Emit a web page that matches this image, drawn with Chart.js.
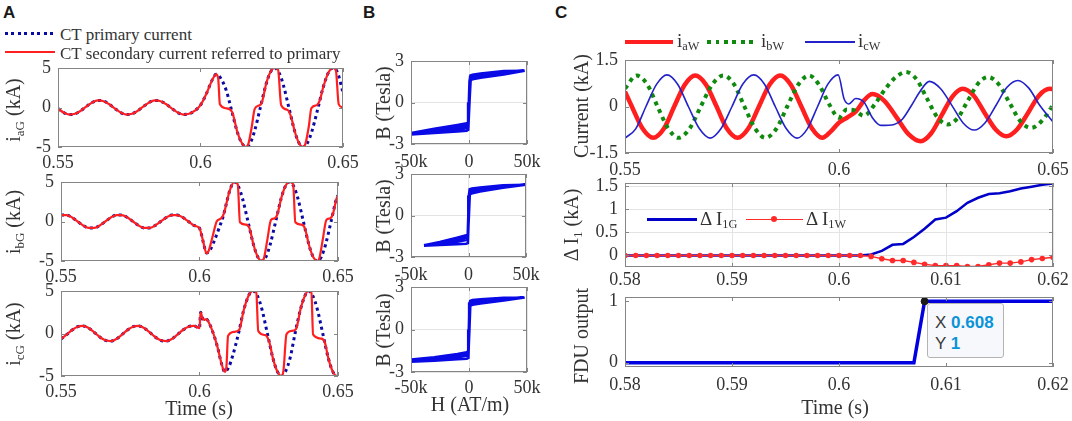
<!DOCTYPE html>
<html>
<head>
<meta charset="utf-8">
<script src="https://cdn.jsdelivr.net/npm/chart.js@4.4.1/dist/chart.umd.min.js"></script>
<style>
  html, body { margin: 0; padding: 0; background: #fff; }
  body { position: relative; width: 1072px; height: 421px; overflow: hidden;
         font-family: 'Liberation Serif', 'Times New Roman', serif; color: #333; }
  canvas { position: absolute; }
  .t { position: absolute; white-space: nowrap; line-height: 1; font-size: 20px; z-index: 2; }
  .mid { transform: translateY(-50%); }
  .ctr { transform: translate(-50%, -50%); }
  .rot { transform: translate(-50%, -50%) rotate(-90deg); }
  sub { font-size: 65%; vertical-align: -0.3em; line-height: 0; }
  .panel { font-family: 'Liberation Sans', Arial, sans-serif; font-weight: bold; font-size: 17px; color: #1a1a1a; }
  .ln { position: absolute; z-index: 2; }
  .tip { position: absolute; left: 927px; top: 303px; width: 77px; height: 55px; box-sizing: border-box;
         background: #f7f8fc; border: 1px solid #b4b4b4; border-radius: 3px; z-index: 2; }
  .tipt { font-family: 'Liberation Sans', Arial, sans-serif; font-size: 17px; color: #3a3a3a; }
  .tipt b { color: #0b93d8; }
</style>
</head>
<body>

<!-- panel letters -->
<div class="t panel" style="left:3px; top:4px;">A</div>
<div class="t panel" style="left:363px; top:4px;">B</div>
<div class="t panel" style="left:555px; top:4px;">C</div>

<!-- legend A -->
<div class="ln" style="left:5px; top:32px; width:50px; height:3px; background:repeating-linear-gradient(90deg,#0a0aa5 0 3px,transparent 3px 6.5px);"></div>
<div class="t mid" style="left:60px; top:34px; font-size:17px;">CT primary current</div>
<div class="ln" style="left:5px; top:51px; width:50px; height:2px; background:#ff1f1f;"></div>
<div class="t mid" style="left:60px; top:53px; font-size:17px;">CT secondary current referred to primary</div>

<!-- legend C top -->
<div class="ln" style="left:625px; top:40px; width:48px; height:4px; background:#ff1f1f;"></div>
<div class="t mid" style="left:677px; top:40px; font-size:19px;">i<sub>aW</sub></div>
<div class="ln" style="left:707px; top:40px; width:50px; height:4px; background:repeating-linear-gradient(90deg,#0f8a0f 0 4px,transparent 4px 8.5px);"></div>
<div class="t mid" style="left:761px; top:40px; font-size:19px;">i<sub>bW</sub></div>
<div class="ln" style="left:805px; top:41px; width:50px; height:1.6px; background:#2222c8;"></div>
<div class="t mid" style="left:858px; top:40px; font-size:19px;">i<sub>cW</sub></div>

<!-- legend C middle -->
<div class="ln" style="left:647px; top:218px; width:50px; height:2.5px; background:#0000c8;"></div>
<div class="t mid" style="left:700px; top:218px; font-size:19px;">&Delta; I<sub>1G</sub></div>
<div class="ln" style="left:746px; top:218.5px; width:57px; height:1.5px; background:#ff2a2a;"></div>
<div class="ln" style="left:771px; top:216px; width:6px; height:6px; border-radius:3px; background:#ff2a2a;"></div>
<div class="t mid" style="left:806px; top:218px; font-size:19px;">&Delta; I<sub>1W</sub></div>

<!-- axis titles -->
<div class="t rot" style="left:13px; top:110px;">i<sub>aG</sub> (kA)</div>
<div class="t rot" style="left:13px; top:222px;">i<sub>bG</sub> (kA)</div>
<div class="t rot" style="left:13px; top:334px;">i<sub>cG</sub> (kA)</div>
<div class="t ctr" style="left:199px; top:408px;">Time (s)</div>
<div class="t rot" style="left:383px; top:103px;">B (Tesla)</div>
<div class="t rot" style="left:383px; top:216px;">B (Tesla)</div>
<div class="t rot" style="left:383px; top:330px;">B (Tesla)</div>
<div class="t ctr" style="left:470px; top:404px;">H (AT/m)</div>
<div class="t rot" style="left:581px; top:106px;">Current (kA)</div>
<div class="t rot" style="left:571px; top:225px;">&Delta; I<sub>1</sub> (kA)</div>
<div class="t rot" style="left:581px; top:336px;">FDU output</div>
<div class="t ctr" style="left:835px; top:407px;">Time (s)</div>

<!-- data tip -->
<div class="tip"></div>
<div class="t mid tipt" style="left:935px; top:322px;">X <b id="tipx"></b></div>
<div class="t mid tipt" style="left:935px; top:343px;">Y <b id="tipy"></b></div>

<script>
// ---------- Panel A: CT currents of the generator side (kA) ----------
const tPre = [0.550, 0.552, 0.554, 0.556, 0.558, 0.560, 0.562, 0.564, 0.566, 0.568,
              0.570, 0.572, 0.574, 0.576, 0.578, 0.580, 0.582, 0.584, 0.586, 0.588,
              0.590, 0.592, 0.594, 0.596, 0.598];
const iaPre = [-0.14, -0.64, -0.89, -0.80, -0.41, 0.14, 0.64, 0.89, 0.80, 0.41,
               -0.14, -0.64, -0.89, -0.80, -0.41, 0.14, 0.64, 0.89, 0.80, 0.41,
               -0.14, -0.64, -0.89, -0.80, -0.41];
const ibPre = [0.81, 0.81, 0.50, 0, -0.50, -0.81, -0.81, -0.50, 0, 0.50,
               0.81, 0.81, 0.50, 0, -0.50, -0.81, -0.81, -0.50, 0, 0.50,
               0.81, 0.81, 0.50, 0, -0.50];
const icPre = [-0.64, -0.14, 0.41, 0.80, 0.89, 0.64, 0.14, -0.41, -0.80, -0.89,
               -0.64, -0.14, 0.41, 0.80, 0.89, 0.64, 0.14, -0.41, -0.80, -0.89,
               -0.64, -0.14, 0.41, 0.80, 0.89];

// after the fault: primary (dotted) and secondary referred to primary (solid)
const taPrim = [0.600, 0.602, 0.604, 0.6055, 0.607, 0.609, 0.611, 0.613, 0.6145, 0.616,
                0.6175, 0.619, 0.621, 0.623, 0.6245, 0.626, 0.6275, 0.629, 0.631, 0.633,
                0.6345, 0.636, 0.6375, 0.639, 0.641, 0.643, 0.645, 0.6465, 0.648, 0.650];
const iaPrim = [0.3, 1.7, 3.4, 4.2, 3.75, 2.2, -0.5, -3.2, -4.5, -5.0,
                -4.45, -2.94, 0, 2.94, 4.45, 5.0, 4.45, 2.94, 0, -2.94,
                -4.45, -5.0, -4.5, -3.1, -0.4, 2.5, 4.5, 5.0, 4.5, 1.9];
const taSec = [0.600, 0.602, 0.604, 0.6055, 0.6062, 0.6068, 0.609, 0.611, 0.613, 0.6145,
               0.616, 0.6168, 0.618, 0.619, 0.6205, 0.6215, 0.623, 0.6245, 0.626, 0.6272,
               0.6283, 0.6305, 0.6318, 0.633, 0.6345, 0.636, 0.6368, 0.638, 0.6389, 0.6408,
               0.642, 0.643, 0.645, 0.6465, 0.6475, 0.6485, 0.650];
const iaSec = [0.3, 1.7, 3.4, 4.2, 3.7, 0.4, -0.1, -0.5, -3.2, -4.5,
               -5.0, -4.6, -2.4, -0.2, 0.25, 0.6, 2.94, 4.45, 5.0, 4.8,
               0.3, -0.3, -1.2, -2.94, -4.45, -5.0, -4.6, -2.4, -0.1, 0.3,
               1.05, 2.5, 4.5, 5.0, 4.7, 0.4, 0.0];

const tbPrim = [0.600, 0.6006, 0.6015, 0.6025, 0.604, 0.6055, 0.607, 0.6085, 0.610, 0.611,
                0.6125, 0.614, 0.6155, 0.6175, 0.6195, 0.621, 0.6225, 0.624, 0.6255, 0.6275,
                0.6295, 0.631, 0.6325, 0.634, 0.6355, 0.6375, 0.6395, 0.641, 0.6425, 0.644,
                0.6455, 0.6475, 0.6495, 0.650];
const ibPrim = [-0.85, -1.5, -2.8, -4.0, -3.5, -2.3, -0.9, 0.6, 2.7, 4.0,
                5.0, 4.46, 2.94, 0, -2.94, -4.46, -5.0, -4.46, -2.94, 0,
                2.94, 4.46, 5.0, 4.46, 2.94, 0, -2.94, -4.46, -5.0, -4.46,
                -2.94, 0, 2.94, 3.3];
const tbSec = [0.600, 0.6006, 0.6015, 0.6025, 0.6032, 0.6048, 0.6062, 0.6078, 0.6088, 0.610,
               0.611, 0.6125, 0.6138, 0.6146, 0.6168, 0.618, 0.6195, 0.621, 0.6225, 0.6233,
               0.6245, 0.6258, 0.6272, 0.6282, 0.6295, 0.631, 0.6325, 0.6338, 0.6346, 0.6368,
               0.638, 0.6395, 0.641, 0.6425, 0.6433, 0.6445, 0.6458, 0.6472, 0.6482, 0.6495,
               0.650];
const ibSec = [-0.85, -1.5, -2.8, -4.0, -3.8, -1.8, 0.0, 0.4, 1.0, 2.7,
               4.0, 5.0, 4.7, -0.1, -0.4, -0.8, -2.94, -4.46, -5.0, -4.6,
               -2.3, 0.2, 0.4, 1.0, 2.94, 4.46, 5.0, 4.7, -0.1, -0.4,
               -0.8, -2.94, -4.46, -5.0, -4.6, -2.3, 0.2, 0.4, 1.0, 2.94,
               3.3];

const tcPrim = [0.600, 0.6004, 0.601, 0.6016, 0.6025, 0.6035, 0.605, 0.6065, 0.608, 0.6091,
                0.6105, 0.612, 0.614, 0.616, 0.6178, 0.6193, 0.6208, 0.6225, 0.6245, 0.6265,
                0.628, 0.6296, 0.631, 0.6327, 0.6345, 0.6365, 0.638, 0.6393, 0.6408, 0.6425,
                0.6445, 0.6465, 0.648, 0.6495, 0.650];
const icPrim = [0.64, 2.5, 1.9, 1.6, 1.7, 1.2, 0.0, -1.6, -3.6, -4.5,
                -4.0, -2.6, -0.1, 2.8, 4.5, 5.0, 4.5, 2.9, 0, -2.9,
                -4.4, -5.0, -4.5, -2.9, 0, 2.9, 4.4, 5.0, 4.5, 2.9,
                0, -2.9, -4.4, -5.0, -5.0];
const tcSec = [0.600, 0.6004, 0.601, 0.6016, 0.6025, 0.6035, 0.605, 0.6065, 0.608, 0.6091,
               0.6097, 0.6103, 0.6125, 0.6143, 0.616, 0.6178, 0.6193, 0.6205, 0.6212, 0.6238,
               0.6252, 0.6265, 0.628, 0.6296, 0.6303, 0.6314, 0.6332, 0.6348, 0.6365, 0.638,
               0.6393, 0.6404, 0.641, 0.644, 0.6452, 0.6465, 0.648, 0.6495, 0.650];
const icSec = [0.64, 2.5, 1.9, 1.6, 1.7, 1.2, 0.0, -1.6, -3.6, -4.5,
               -4.0, -0.3, 0.2, 0.4, 2.8, 4.5, 5.0, 4.8, 0.3, -0.2,
               -1.0, -2.9, -4.4, -5.0, -4.4, -0.1, 0.3, 0.5, 2.9, 4.4,
               5.0, 4.8, -0.1, -0.6, -1.0, -2.9, -4.4, -5.0, -5.0];

// ---------- Panel B: B-H loops (AT/m, Tesla) ----------
const h1 = [-50000, -30000, -10000, -2000, -600, 300, 1000, 3000, 10000, 30000, 48000,
            30000, 10000, 3000, 1200, 400, -200, -800, -2000, -10000, -30000, -50000,
            -30000, -10000, -2000, -500, 500, 1500, 4000, 15000, 30000, 47000,
            30000, 10000, 3000, 900, 200, -500, -2000, -10000, -30000, -48000];
const b1 = [-2.32, -2.2, -2.1, -2.05, -1.98, 0, 1.6, 1.68, 1.78, 2.02, 2.3,
            2.28, 2.1, 2.0, 1.95, 1.55, 0, -1.42, -1.5, -1.62, -1.9, -2.2,
            -2.12, -1.95, -1.85, -1.78, 0.1, 1.72, 1.8, 1.92, 2.12, 2.32,
            2.2, 2.02, 1.9, 1.85, 0.3, -1.6, -1.68, -1.8, -2.05, -2.27];
const h2 = [-38700, -25000, -10000, -2000, -500, 300, 800, 2500, 10000, 30000, 50000,
            30000, 10000, 3000, 1000, 300, -200, -700, -2000, -10000, -25000, -38700,
            -25000, -10000, -2000, -500, 400, 1200, 4000, 15000, 35000, 49000,
            30000, 10000, 3000, 800, 100, -600, -2000, -10000, -25000, -38000];
const b2 = [-2.18, -2.14, -2.08, -2.04, -2.0, 0, 1.5, 1.58, 1.73, 2.0, 2.22,
            2.18, 2.02, 1.95, 1.9, 1.45, 0, -1.35, -1.42, -1.6, -1.92, -2.14,
            -2.06, -1.9, -1.78, -1.72, 0, 1.62, 1.7, 1.86, 2.08, 2.24,
            2.1, 1.9, 1.78, 1.7, 0.3, -1.55, -1.6, -1.76, -2.0, -2.15];
const h3 = [-50000, -30000, -10000, -2000, -500, 300, 900, 3000, 10000, 30000, 48000,
            30000, 10000, 3000, 1000, 300, -200, -700, -2000, -10000, -30000, -50000,
            -30000, -10000, -2000, -500, 400, 1200, 4000, 15000, 30000, 47000,
            30000, 10000, 3000, 800, 100, -600, -2000, -10000, -30000, -48000];
const b3 = [-2.28, -2.2, -2.1, -2.06, -2.0, 0, 1.68, 1.74, 1.84, 2.04, 2.25,
            2.24, 2.14, 2.09, 2.02, 1.6, 0, -1.52, -1.6, -1.72, -1.96, -2.12,
            -2.1, -1.95, -1.85, -1.8, 0, 1.82, 1.9, 2.0, 2.12, 2.28,
            2.18, 2.05, 1.98, 1.93, 0.3, -1.65, -1.72, -1.85, -2.05, -2.2];

// ---------- Panel C: wind side currents, delta I1, FDU ----------
const tIaW = [0.5500, 0.5517, 0.5541, 0.5566, 0.5591, 0.5615, 0.5640, 0.5664, 0.5689, 0.5714,
              0.5738, 0.5763, 0.5788, 0.5813, 0.5838, 0.5863, 0.5887, 0.5912, 0.5937, 0.5961,
              0.5981, 0.6000, 0.6020, 0.6040, 0.6060, 0.6078, 0.6106, 0.6135, 0.6163, 0.6191,
              0.6215, 0.6240, 0.6265, 0.6289, 0.6315, 0.6340, 0.6366, 0.6391, 0.6416, 0.6442,
              0.6467, 0.6492, 0.6500];
const iaW = [0.48, -0.03, -0.71, -1.01, -0.71, 0.0, 0.71, 1.0, 0.71, 0.0,
             -0.71, -1.01, -0.71, 0.0, 0.71, 1.0, 0.71, 0.0, -0.71, -1.01,
             -0.8, -0.52, -0.35, -0.15, 0.22, 0.40, 0.18, -0.36, -0.90, -1.12,
             -0.87, -0.28, 0.32, 0.57, 0.35, -0.20, -0.74, -0.96, -0.74, -0.2,
             0.35, 0.57, 0.56];
const tIbW = [0.5500, 0.5527, 0.5552, 0.5576, 0.5601, 0.5625, 0.5651, 0.5677, 0.5704, 0.5730,
              0.5755, 0.5779, 0.5804, 0.5828, 0.5854, 0.5879, 0.5905, 0.5930, 0.5953, 0.5978,
              0.6000, 0.6018, 0.6035, 0.6058, 0.6085, 0.6110, 0.6133, 0.6156, 0.6181, 0.6205,
              0.6230, 0.6254, 0.6278, 0.6301, 0.6325, 0.6348, 0.6373, 0.6398, 0.6424, 0.6449,
              0.6475, 0.6500];
const ibW = [0.58, 1.0, 0.71, 0.0, -0.71, -1.01, -0.71, 0.0, 0.71, 1.0,
             0.71, 0.0, -0.71, -1.01, -0.71, 0.0, 0.71, 1.0, 0.71, 0.05,
             -0.36, -0.1, -0.12, -0.3, 0.1, 0.6, 0.95, 1.11, 0.88, 0.27,
             -0.35, -0.58, -0.36, 0.19, 0.74, 0.95, 0.72, 0.13, -0.48, -0.69,
             -0.45, 0.05];
const tIcW = [0.5500, 0.5525, 0.5549, 0.5574, 0.5598, 0.5623, 0.5648, 0.5674, 0.5699, 0.5724,
              0.5750, 0.5775, 0.5801, 0.5826, 0.5851, 0.5877, 0.5902, 0.5926, 0.5950, 0.5974,
              0.5998, 0.6012, 0.6023, 0.6039, 0.6059, 0.6078, 0.6098, 0.6129, 0.6148, 0.6170,
              0.6190, 0.6211, 0.6237, 0.6264, 0.6290, 0.6316, 0.6341, 0.6367, 0.6392, 0.6418,
              0.6443, 0.6469, 0.6500];
const icW = [-1.02, -0.72, 0.0, 0.72, 1.02, 0.72, 0.0, -0.72, -1.02, -0.72,
             0.0, 0.72, 1.02, 0.72, 0.0, -0.72, -1.02, -0.72, 0.0, 0.72,
             1.02, 0.24, 0.08, 0.26, 0.13, -0.36, -0.61, -0.58, -0.41, 0.05,
             0.5, 0.81, 0.58, 0.03, -0.53, -0.76, -0.53, 0.04, 0.61, 0.84,
             0.6, 0.04, -0.5];

const tD = [0.580, 0.581, 0.582, 0.583, 0.584, 0.585, 0.586, 0.587, 0.588, 0.589,
            0.590, 0.591, 0.592, 0.593, 0.594, 0.595, 0.596, 0.597, 0.598, 0.599,
            0.600, 0.601, 0.602, 0.603, 0.604, 0.605, 0.606, 0.607, 0.608, 0.609,
            0.610, 0.611, 0.612, 0.613, 0.614, 0.615, 0.616, 0.617, 0.618, 0.619,
            0.620];
const dI1G = [0, 0, 0, 0, 0, 0, 0, 0, 0, 0,
              0, 0, 0, 0, 0, 0, 0, 0, 0, 0,
              0, 0, 0, 0.02, 0.1, 0.23, 0.25, 0.40, 0.58, 0.78,
              0.82, 0.96, 1.14, 1.25, 1.33, 1.35, 1.39, 1.45, 1.49, 1.53,
              1.56];
const dI1W = [0, 0, 0, 0, 0, 0, 0, 0, 0, 0,
              0, 0, 0, 0, 0, 0, 0, 0, 0, 0,
              0, 0, 0, -0.02, -0.07, -0.11, -0.11, -0.15, -0.19, -0.22,
              -0.22, -0.22, -0.24, -0.24, -0.2, -0.165, -0.165, -0.14, -0.09, -0.065,
              -0.04];

const tFdu = [0.580, 0.607, 0.608, 0.620];
const fdu = [0, 0, 1, 1];
const tipX = 0.608, tipY = 1;

// tick values
const tickT = [0.55, 0.6, 0.65];
const tickI = [-5, 0, 5];
const tickH = [-50000, 0, 50000];
const tickB = [-3, 0, 3];
const tickCur = [-1.5, 0, 1.5];
const tickTz = [0.58, 0.59, 0.6, 0.61, 0.62];
const tickD = [0, 0.5, 1, 1.5];
const tickF = [0, 1];

const RED = '#ff1f1f', NAVY = '#0a0aa5';
const LABEL_FONT = "18px 'Liberation Serif', 'Times New Roman', serif";

const xy = (t, v) => t.map((x, i) => ({ x, y: v[i] }));

// MATLAB-like box, inward ticks on all four sides, serif tick labels
const frame = {
  id: 'frame',
  afterDatasetsDraw(chart, args, opts) {
    const { ctx, chartArea: a, scales: { x, y } } = chart;
    ctx.save();
    ctx.strokeStyle = '#858585';
    ctx.lineWidth = 1;
    ctx.beginPath();
    x.ticks.forEach(t => {
      const px = Math.round(x.getPixelForValue(t.value)) + 0.5;
      ctx.moveTo(px, a.bottom); ctx.lineTo(px, a.bottom - 4);
      ctx.moveTo(px, a.top); ctx.lineTo(px, a.top + 4);
    });
    y.ticks.forEach(t => {
      const py = Math.round(y.getPixelForValue(t.value)) + 0.5;
      ctx.moveTo(a.left, py); ctx.lineTo(a.left + 4, py);
      ctx.moveTo(a.right, py); ctx.lineTo(a.right - 4, py);
    });
    ctx.stroke();
    ctx.strokeRect(Math.round(a.left) + 0.5, Math.round(a.top) + 0.5,
                   Math.round(a.width) - 1, Math.round(a.height) - 1);

    ctx.fillStyle = '#333';
    ctx.font = LABEL_FONT;
    ctx.textBaseline = 'middle';
    ctx.textAlign = 'center';
    x.ticks.forEach(t => ctx.fillText(String(t.label), x.getPixelForValue(t.value), a.bottom + opts.dy));
    ctx.textAlign = 'right';
    y.ticks.forEach(t => ctx.fillText(String(t.label), a.left - 7, y.getPixelForValue(t.value)));
    ctx.restore();
  }
};

function scale(c, dir, size) {
  return {
    type: 'linear', min: c.min, max: c.max,
    afterBuildTicks: s => { s.ticks = c.ticks.map(v => ({ value: v })); },
    afterFit: s => { if (dir === 'x') s.height = size; else s.width = size; },
    ticks: { display: false, callback: c.fmt || (v => String(v)), autoSkip: false },
    grid: { display: !!c.grid, color: '#e4e4e4', drawTicks: false },
    border: { display: false }
  };
}

function makePlot(box, xc, yc, datasets, dy) {
  const padL = 48, padR = 30, padT = 14, padB = 36;
  const cv = document.createElement('canvas');
  const w = box.w + padL + padR, h = box.h + padT + padB;
  cv.width = w; cv.height = h;
  cv.style.left = (box.x - padL) + 'px';
  cv.style.top = (box.y - padT) + 'px';
  cv.style.width = w + 'px';
  cv.style.height = h + 'px';
  document.body.appendChild(cv);
  new Chart(cv, {
    type: 'line',
    data: { datasets },
    options: {
      responsive: false, animation: false, events: [],
      layout: { padding: { top: padT, right: padR, left: 0, bottom: 0 } },
      plugins: { legend: { display: false }, tooltip: { enabled: false }, frame: { dy: dy } },
      elements: { point: { radius: 0 } },
      scales: { x: scale(xc, 'x', padB), y: scale(yc, 'y', padL) }
    },
    plugins: [frame]
  });
}

function ctPair(tp, vp, ts, vs, tq, vq) {
  return [
    { data: xy(tp.concat(ts), vp.concat(vs)), borderColor: RED, borderWidth: 2.2,
      cubicInterpolationMode: 'monotone' },
    { data: xy(tp.concat(tq), vp.concat(vq)), borderColor: NAVY, borderWidth: 3,
      borderDash: [3, 3.5], cubicInterpolationMode: 'monotone' }
  ];
}

const axT = { min: 0.55, max: 0.65, ticks: tickT };
const axI = { min: -5, max: 5, ticks: tickI };
const axH = { min: -50000, max: 50000, ticks: tickH, grid: true,
              fmt: v => v === 0 ? '0' : (v / 1000) + 'k' };
const axB = { min: -3, max: 3, ticks: tickB, grid: true };
const loop = (h, b) => [{ data: xy(h, b), borderColor: '#0a0ae6', borderWidth: 2.5 }];

function drawAll() {
  // panel A
  makePlot({ x: 58, y: 68, w: 285, h: 79 }, axT, axI, ctPair(tPre, iaPre, taSec, iaSec, taPrim, iaPrim), 16);
  makePlot({ x: 61, y: 182, w: 277, h: 79 }, axT, axI, ctPair(tPre, ibPre, tbSec, ibSec, tbPrim, ibPrim), 16);
  makePlot({ x: 61, y: 291, w: 277, h: 85 }, axT, axI, ctPair(tPre, icPre, tcSec, icSec, tcPrim, icPrim), 16);

  // panel B
  makePlot({ x: 411, y: 61, w: 116, h: 83 }, axH, axB, loop(h1, b1), 18);
  makePlot({ x: 411, y: 174, w: 115, h: 83 }, axH, axB, loop(h2, b2), 18);
  makePlot({ x: 411, y: 287, w: 116, h: 85 }, axH, axB, loop(h3, b3), 16);

  // panel C
  makePlot({ x: 625, y: 60, w: 428, h: 93 }, axT, { min: -1.5, max: 1.5, ticks: tickCur }, [
    { data: xy(tIcW, icW), borderColor: '#2222c8', borderWidth: 1.6, cubicInterpolationMode: 'monotone' },
    { data: xy(tIbW, ibW), borderColor: '#0f8a0f', borderWidth: 4, borderDash: [4, 4.5],
      cubicInterpolationMode: 'monotone' },
    { data: xy(tIaW, iaW), borderColor: RED, borderWidth: 4.5, cubicInterpolationMode: 'monotone' }
  ], 17);
  makePlot({ x: 625, y: 183, w: 428, h: 84 },
    { min: 0.58, max: 0.62, ticks: tickTz, grid: true },
    { min: -0.25, max: 1.57, ticks: tickD, grid: true }, [
    { data: xy(tD, dI1W), borderColor: '#ff2a2a', borderWidth: 1.4, pointRadius: 2.8,
      pointBackgroundColor: '#ff2a2a', pointBorderWidth: 0 },
    { data: xy(tD, dI1G), borderColor: '#0000c8', borderWidth: 2.5 }
  ], 13);
  makePlot({ x: 625, y: 297, w: 428, h: 70 },
    { min: 0.58, max: 0.62, ticks: tickTz },
    { min: -0.07, max: 1.07, ticks: tickF }, [
    { data: [{ x: tipX, y: tipY }], showLine: false, pointRadius: 3.5,
      pointBackgroundColor: '#1a1a1a', pointBorderColor: '#1a1a1a' },
    { data: xy(tFdu, fdu), borderColor: '#0000e0', borderWidth: 3.5 }
  ], 18);

  document.getElementById('tipx').textContent = String(tipX);
  document.getElementById('tipy').textContent = String(tipY);
}

drawAll();
</script>
</body>
</html>
